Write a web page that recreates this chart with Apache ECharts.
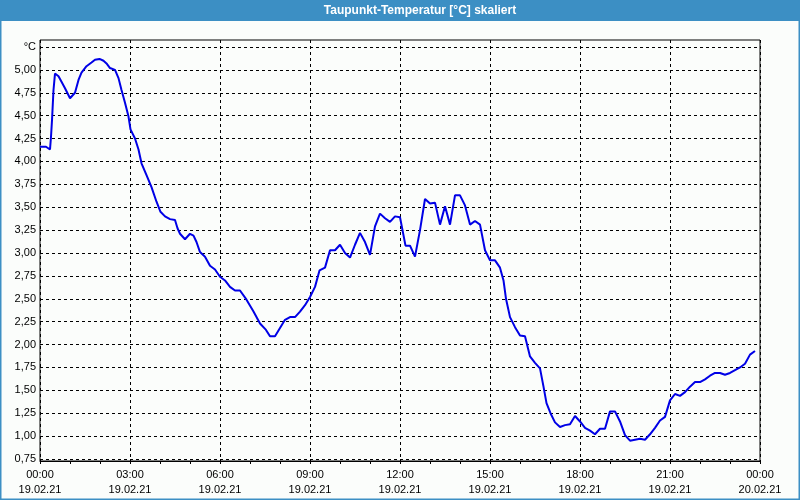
<!DOCTYPE html>
<html>
<head>
<meta charset="utf-8">
<script src="https://cdn.jsdelivr.net/npm/echarts@6/dist/echarts.min.js"></script>
<style>
html,body{margin:0;padding:0;background:#fbfdfb;}
#c{width:800px;height:500px;}
</style>
</head>
<body>
<div id="c"></div>
<script>
// Chart data (time in minutes since 19.02.21 00:00)
var titleText = 'Taupunkt-Temperatur [°C] skaliert';
var minutes = [0,12,20,22,24,27,30,37,43,50,60,70,77,83,93,103,110,119,127,133,140,150,157,163,170,177,181,190,197,203,213,223,233,241,250,260,270,275,280,290,300,307,313,320,330,340,350,360,370,380,390,400,413,427,440,452,460,470,480,490,500,510,520,530,540,550,559,570,580,590,600,610,620,630,640,650,660,670,680,690,700,710,720,731,740,750,760,770,780,790,800,810,820,830,840,850,860,870,880,890,900,910,920,927,932,940,950,960,970,980,990,1000,1007,1013,1021,1030,1040,1050,1060,1070,1080,1090,1100,1110,1120,1130,1140,1150,1160,1170,1180,1190,1200,1210,1220,1230,1240,1250,1260,1270,1280,1290,1300,1310,1320,1330,1340,1350,1360,1370,1380,1390,1400,1410,1420,1430];
var dewPoint = [4.16,4.16,4.13,4.27,4.45,4.78,4.96,4.93,4.87,4.80,4.69,4.75,4.89,4.97,5.04,5.08,5.11,5.12,5.10,5.07,5.02,5.00,4.91,4.78,4.64,4.49,4.35,4.25,4.13,3.98,3.85,3.72,3.56,3.45,3.40,3.37,3.36,3.27,3.21,3.15,3.21,3.19,3.12,3.01,2.96,2.86,2.82,2.74,2.70,2.63,2.59,2.59,2.49,2.36,2.23,2.16,2.09,2.09,2.18,2.27,2.30,2.30,2.36,2.43,2.52,2.63,2.81,2.84,3.03,3.03,3.09,3.00,2.95,3.09,3.22,3.12,2.98,3.29,3.43,3.38,3.34,3.40,3.39,3.08,3.08,2.96,3.25,3.59,3.54,3.55,3.31,3.51,3.31,3.63,3.63,3.52,3.31,3.35,3.31,3.03,2.92,2.92,2.84,2.70,2.50,2.30,2.19,2.10,2.09,1.87,1.80,1.74,1.54,1.36,1.25,1.15,1.10,1.12,1.13,1.22,1.16,1.09,1.06,1.02,1.08,1.08,1.27,1.27,1.16,1.01,0.95,0.96,0.97,0.96,1.02,1.09,1.17,1.21,1.39,1.46,1.44,1.48,1.54,1.59,1.59,1.62,1.66,1.69,1.69,1.67,1.69,1.72,1.75,1.79,1.89,1.93];
var xTickTimes = ['00:00','03:00','06:00','09:00','12:00','15:00','18:00','21:00','00:00'];
var xTickDates = ['19.02.21','19.02.21','19.02.21','19.02.21','19.02.21','19.02.21','19.02.21','19.02.21','20.02.21'];
var yUnitLabel = '°C';

var seriesData = minutes.map(function (m, i) { return [m, dewPoint[i]]; });
var font = 'Liberation Sans, Arial, sans-serif';
var chart = echarts.init(document.getElementById('c'), null, {renderer: 'canvas'});
chart.setOption({
  backgroundColor: '#fbfdfb',
  animation: false,
  graphic: [
    {type: 'rect', z: 0, shape: {x: 0, y: 0, width: 800, height: 21}, style: {fill: '#3c8fc4'}},
    {type: 'rect', z: 0, shape: {x: 0.5, y: 0.5, width: 799, height: 499}, style: {fill: 'none', stroke: '#3c8fc4', lineWidth: 2}},
    {type: 'text', z: 10, x: 420, y: 11, style: {text: titleText, fill: '#ffffff', font: 'bold 12px ' + font, textAlign: 'center', textVerticalAlign: 'middle'}}
  ],
  grid: [
    {left: 40, top: 40, width: 720, height: 421, show: true, borderColor: '#000', borderWidth: 1, backgroundColor: 'transparent'},
    {left: 40, top: 47, width: 720, height: 412, show: false}
  ],
  xAxis: [
    {
      type: 'value', gridIndex: 0, min: 0, max: 1440, interval: 180,
      axisLine: {show: true, lineStyle: {color: '#000', width: 1}},
      axisTick: {show: true, length: 3, lineStyle: {color: '#000'}},
      minorTick: {show: true, splitNumber: 3, length: 3, lineStyle: {color: '#000'}},
      splitLine: {show: true, lineStyle: {color: '#000', type: [3, 3], width: 1}},
      axisLabel: {
        show: true, margin: 6, color: '#000', fontFamily: font, fontSize: 11, lineHeight: 15,
        showMinLabel: true, showMaxLabel: true,
        formatter: function (v) { var i = Math.round(v / 180); return xTickTimes[i] + '\n' + xTickDates[i]; }
      }
    },
    {type: 'value', gridIndex: 1, min: 0, max: 1440, show: false, splitLine: {show: false}}
  ],
  yAxis: [
    {type: 'value', gridIndex: 0, min: 0, max: 1, show: false, splitLine: {show: false}},
    {
      type: 'value', gridIndex: 1, min: 0.75, max: 5.25, interval: 0.25,
      axisLine: {show: false}, axisTick: {show: false},
      splitLine: {show: true, showMinLine: true, showMaxLine: true, lineStyle: {color: '#000', type: [3, 3], width: 1}},
      axisLabel: {
        show: true, margin: 4, color: '#000', fontFamily: font, fontSize: 11,
        showMinLabel: true, showMaxLabel: true,
        formatter: function (v) { if (Math.abs(v - 5.25) < 1e-6) return yUnitLabel; return v.toFixed(2).replace('.', ','); }
      }
    }
  ],
  series: [{
    type: 'line', xAxisIndex: 1, yAxisIndex: 1, data: seriesData,
    showSymbol: false, symbol: 'none', smooth: false,
    lineStyle: {color: '#0000e6', width: 2}, z: 5
  }]
});
</script>
</body>
</html>
